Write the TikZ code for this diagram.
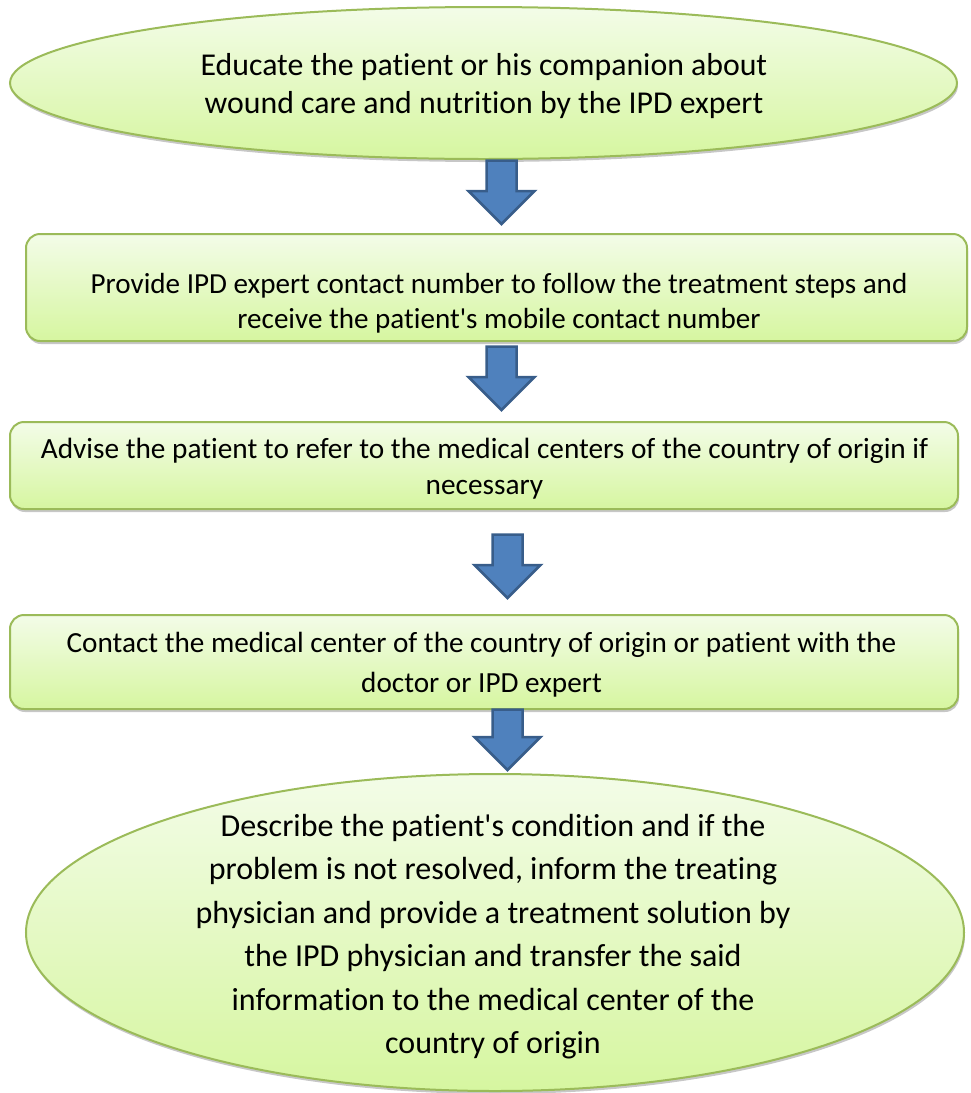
\documentclass[tikz,border=0pt]{standalone}
\usepackage{fontspec}
\setmainfont{Carlito}[Ligatures={NoCommon}]
\usetikzlibrary{shapes.geometric,shadows,calc}
\definecolor{gtop}{RGB}{243,252,232}
\definecolor{gbot}{RGB}{214,246,160}
\definecolor{gline}{RGB}{155,187,89}
\definecolor{afill}{RGB}{79,129,189}
\definecolor{aline}{RGB}{56,93,138}
\tikzset{
  stepshape/.style={draw=gline, line width=2pt, top color=gtop, bottom color=gbot, inner sep=0pt,
    drop shadow={shadow xshift=1pt, shadow yshift=-3pt, opacity=0.22, fill=black}},
  ovalbox/.style={stepshape, ellipse},
  roundbox/.style={stepshape, rectangle, rounded corners=14pt},
  blockarrow/.style={draw=aline, fill=afill, line width=2.5pt, line join=miter},
  txt/.style={anchor=base, inner sep=0pt, text=black},
}
\newcommand\blockarr[2]{%
  \draw[blockarrow] let \p1=(#1), \p2=(#2) in
    (\x1-15pt,\y1) -- (\x1+15pt,\y1) -- (\x1+15pt,\y2+33pt) -- (\x1+33pt,\y2+33pt)
    -- (\x2,\y2) -- (\x1-33pt,\y2+33pt) -- (\x1-15pt,\y2+33pt) -- cycle;}
\begin{document}
\begin{tikzpicture}[x=1pt,y=-1pt]
\useasboundingbox (0,0) rectangle (970,1093);
% shapes
\node[ovalbox, minimum width=947pt, minimum height=152pt] (e1) at (483.5,83) {};
\node[roundbox, minimum width=941pt, minimum height=107pt] (b2) at (496.5,287.5) {};
\node[roundbox, minimum width=948pt, minimum height=87pt] (b3) at (484,465.5) {};
\node[roundbox, minimum width=948pt, minimum height=94pt] (b4) at (484,662) {};
\node[ovalbox, minimum width=938pt, minimum height=317pt] (e5) at (495,932.5) {};
% texts
\node[txt] (t1) at (484,75) {\fontsize{31.8pt}{38pt}\selectfont\begin{tabular}[t]{@{}c@{}}Educate the patient or his companion about\\ wound care and nutrition by the IPD expert\end{tabular}};
\node[txt] (t2) at (499,293) {\fontsize{29.1pt}{35pt}\selectfont\begin{tabular}[t]{@{}c@{}}Provide IPD expert contact number to follow the treatment steps and\\ receive the patient\textquotesingle s mobile contact number\end{tabular}};
\node[txt] (t3) at (484.5,458) {\fontsize{29.3pt}{36pt}\selectfont\begin{tabular}[t]{@{}c@{}}Advise the patient to refer to the medical centers of the country of origin if\\ necessary\end{tabular}};
\node[txt] (t4) at (481.5,652) {\fontsize{29.2pt}{40pt}\selectfont\begin{tabular}[t]{@{}c@{}}Contact the medical center of the country of origin or patient with the\\ doctor or IPD expert\end{tabular}};
\node[txt] (t5) at (493,836.5) {\fontsize{32pt}{43.4pt}\selectfont\begin{tabular}[t]{@{}c@{}}Describe the patient\textquotesingle s condition and if the\\ problem is not resolved, inform the treating\\ physician and provide a treatment solution by\\ the IPD physician and transfer the said\\ information to the medical center of the\\ country of origin\end{tabular}};
% arrow ends
\coordinate (a1s) at ($(e1.south)+(18,0.5)$);
\coordinate (a1e) at ($(b2.north)+(5,-9)$);
\coordinate (a2s) at ($(b2.south)+(5,4.5)$);
\coordinate (a2e) at ($(b3.north)+(17.5,-11)$);
\coordinate (a3s) at ($(b3.south)+(23.5,24.5)$);
\coordinate (a3e) at ($(b4.north)+(23.5,-16)$);
\coordinate (a4s) at ($(b4.south)+(23.5,-0.5)$);
\coordinate (a4e) at ($(e5.north)+(12.5,-3)$);
\blockarr{a1s}{a1e}
\blockarr{a2s}{a2e}
\blockarr{a3s}{a3e}
\blockarr{a4s}{a4e}
\end{tikzpicture}
\end{document}
